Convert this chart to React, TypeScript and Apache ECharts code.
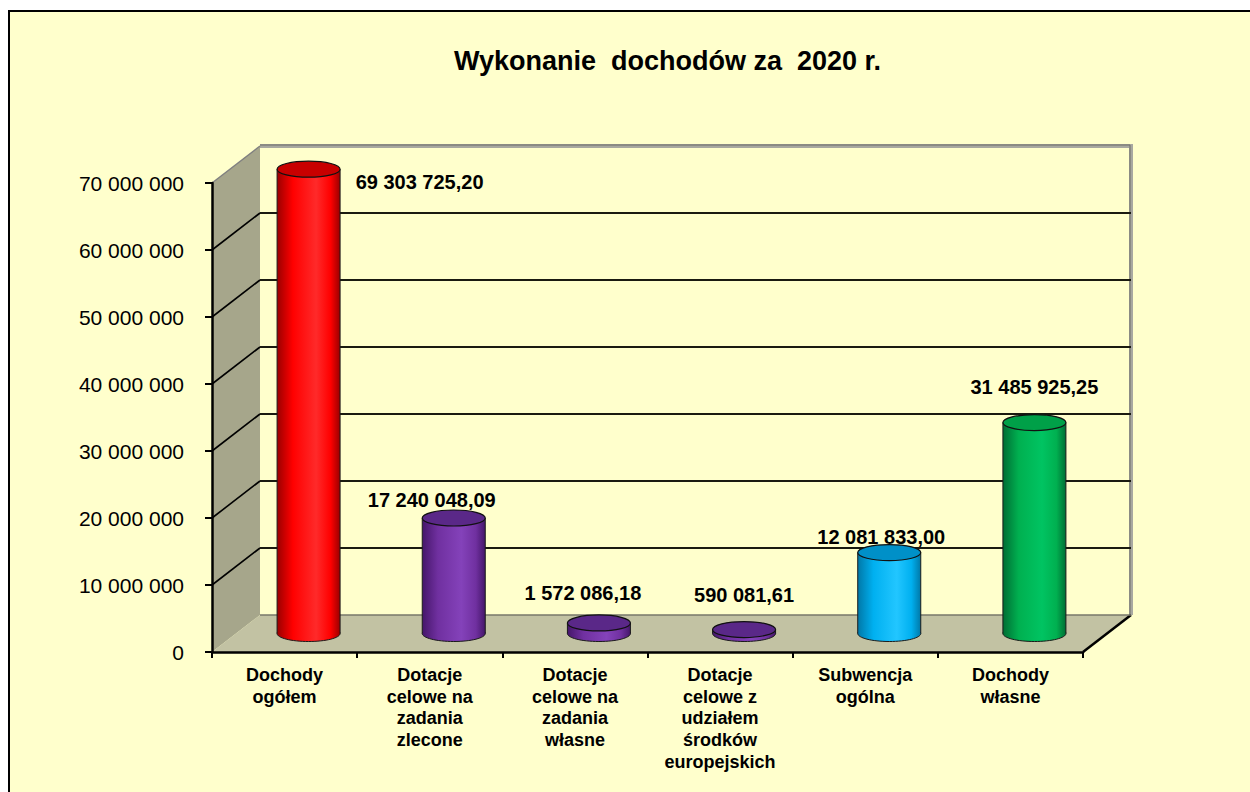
import React, { useEffect, useRef } from "react";
import * as echarts from "echarts";

const TITLE = "Wykonanie  dochodów za  2020 r.";
const CATEGORIES = [
  "Dochody\nogółem",
  "Dotacje\ncelowe na\nzadania\nzlecone",
  "Dotacje\ncelowe na\nzadania\nwłasne",
  "Dotacje\ncelowe z\nudziałem\nśrodków\neuropejskich",
  "Subwencja\nogólna",
  "Dochody\nwłasne",
];
const VALUES = [69303725.2, 17240048.09, 1572086.18, 590081.61, 12081833.0, 31485925.25];
const Y_TICKS = [0, 10000000, 20000000, 30000000, 40000000, 50000000, 60000000, 70000000];

// styling (not data)
const BAR_STYLES = [
  { edge: "#9A0000", mid: "#FF0000", hi: "#FF2A2A", top: "#C80000" },
  { edge: "#45166A", mid: "#7030A0", hi: "#8442BA", top: "#5A2888" },
  { edge: "#45166A", mid: "#7030A0", hi: "#8442BA", top: "#5A2888" },
  { edge: "#45166A", mid: "#7030A0", hi: "#8442BA", top: "#5A2888" },
  { edge: "#0078A8", mid: "#00B0F0", hi: "#22C6FF", top: "#0090C8" },
  { edge: "#006E34", mid: "#00B050", hi: "#00C462", top: "#00A048" },
];
const LABEL_SHIFT = [
  [111, 13],
  [-22, -18],
  [-16, -30],
  [0, -35],
  [-8, -16],
  [0, -36],
];
const DEPTH_X = 48;
const DEPTH_Y = -37;
const FONT = "'Liberation Sans', Arial, sans-serif";

function fmtInt(v: number) {
  return String(Math.round(v)).replace(/\B(?=(\d{3})+(?!\d))/g, " ");
}
function fmtMoney(v: number) {
  const [i, d] = v.toFixed(2).split(".");
  return i.replace(/\B(?=(\d{3})+(?!\d))/g, " ") + "," + d;
}

export default function App() {
  const ref = useRef<HTMLDivElement>(null);
  useEffect(() => {
    if (!ref.current) return;
    const chart = echarts.init(ref.current, null, { renderer: "svg" });
    const option: any = {
      animation: false,
      backgroundColor: "#FFFFFF",
      graphic: [
        {
          type: "rect",
          z: -10,
          silent: true,
          shape: { x: 9, y: 11, width: 1300, height: 900 },
          style: { fill: "#FFFFCC", stroke: "#000000", lineWidth: 2 },
        },
      ],
      title: {
        text: TITLE,
        left: 449,
        top: 42,
        textStyle: { fontFamily: FONT, fontWeight: "bold", fontSize: 27, color: "#000" },
      },
      grid: { left: 212, top: 183, width: 871, height: 469, containLabel: false },
      xAxis: {
        type: "category",
        data: CATEGORIES,
        z: 10,
        axisLine: { show: true, lineStyle: { color: "#000", width: 2.5 } },
        axisTick: { show: true, length: 6, lineStyle: { color: "#000", width: 2 } },
        axisLabel: {
          interval: 0,
          margin: 12,
          fontFamily: FONT,
          fontWeight: "bold",
          fontSize: 18,
          lineHeight: 21.7,
          color: "#000",
        },
        splitLine: { show: false },
      },
      yAxis: {
        type: "value",
        min: 0,
        max: 70000000,
        interval: 10000000,
        z: 10,
        axisLine: { show: true, lineStyle: { color: "#000", width: 2.5 } },
        axisTick: { show: true, length: 7, lineStyle: { color: "#000", width: 2 } },
        axisLabel: {
          margin: 28,
          fontFamily: FONT,
          fontSize: 21,
          color: "#000",
          formatter: (v: number) => fmtInt(v),
        },
        splitLine: { show: false },
      },
      series: [
        {
          type: "custom",
          name: "walls",
          z: 1,
          clip: false,
          silent: true,
          data: [[0, 0]],
          renderItem: (params: any) => {
            const cs = params.coordSys;
            const x0 = cs.x, y0 = cs.y, w = cs.width, h = cs.height;
            const bx = x0 + DEPTH_X, by = y0 + DEPTH_Y;
            return {
              type: "group",
              children: [
                {
                  type: "rect",
                  shape: { x: bx, y: by, width: w, height: h },
                  style: { fill: "#FFFFCC" },
                },
                {
                  type: "polygon",
                  shape: { points: [[x0, y0 + h], [x0, y0], [bx, by], [bx, by + h]] },
                  style: { fill: "#A6A68B" },
                },
                {
                  type: "polygon",
                  shape: { points: [[x0, y0 + h], [x0 + w, y0 + h], [bx + w, by + h], [bx, by + h]] },
                  style: { fill: "#C2C2A3" },
                },
                {
                  type: "polyline",
                  shape: { points: [[bx, by], [bx + w, by], [bx + w, by + h]] },
                  style: { stroke: "#A8A8A0", lineWidth: 4, fill: null },
                },
                {
                  type: "polyline",
                  shape: { points: [[bx, by - 1], [bx + w - 1, by - 1], [bx + w - 1, by + h]] },
                  style: { stroke: "#6E6E68", lineWidth: 1, fill: null },
                },
                {
                  type: "line",
                  shape: { x1: x0, y1: y0, x2: bx, y2: by },
                  style: { stroke: "#808080", lineWidth: 1.5 },
                },
                {
                  type: "line",
                  shape: { x1: x0 + w, y1: y0 + h, x2: bx + w, y2: by + h },
                  style: { stroke: "#000", lineWidth: 2.5 },
                },
                {
                  type: "line",
                  shape: { x1: bx, y1: by + h, x2: bx + w, y2: by + h },
                  style: { stroke: "#77776A", lineWidth: 1.5 },
                },
              ],
            };
          },
        },
        {
          type: "custom",
          name: "gridlines",
          z: 2,
          clip: false,
          silent: true,
          data: Y_TICKS.filter((v) => v > 0 && v < 70000000).map((v) => [0, v]),
          renderItem: (params: any, api: any) => {
            const cs = params.coordSys;
            const y = api.coord([0, api.value(1)])[1];
            const x0 = cs.x;
            return {
              type: "group",
              children: [
                {
                  type: "line",
                  shape: { x1: x0, y1: y, x2: x0 + DEPTH_X, y2: y + DEPTH_Y },
                  style: { stroke: "#000", lineWidth: 1.6 },
                },
                {
                  type: "line",
                  shape: { x1: x0 + DEPTH_X, y1: y + DEPTH_Y, x2: x0 + DEPTH_X + cs.width, y2: y + DEPTH_Y },
                  style: { stroke: "#1A1A10", lineWidth: 2.2 },
                },
              ],
            };
          },
        },
        {
          type: "custom",
          name: "Wykonanie",
          z: 3,
          clip: false,
          data: VALUES.map((v, i) => [i, v]),
          renderItem: (params: any, api: any) => {
            const i = api.value(0);
            const v = api.value(1);
            const base = api.coord([i, 0]);
            const top = api.coord([i, v]);
            const bw = api.size([1, 0])[0];
            const rx = bw * 0.217;
            const ry = 8;
            const cx = base[0] + DEPTH_X / 2;
            const yb = base[1] + DEPTH_Y / 2;
            const yt = top[1] + DEPTH_Y / 2;
            const s = BAR_STYLES[i];
            const grad = {
              type: "linear",
              x: 0, y: 0, x2: 1, y2: 0,
              colorStops: [
                { offset: 0, color: s.edge },
                { offset: 0.25, color: s.mid },
                { offset: 0.62, color: s.hi },
                { offset: 0.85, color: s.mid },
                { offset: 1, color: s.edge },
              ],
            };
            const sh = LABEL_SHIFT[i];
            return {
              type: "group",
              children: [
                {
                  type: "ellipse",
                  shape: { cx, cy: yb, rx, ry },
                  style: { fill: grad, stroke: "#1A1A1A", lineWidth: 1 },
                },
                {
                  type: "rect",
                  shape: { x: cx - rx, y: yt, width: rx * 2, height: Math.max(0, yb - yt) },
                  style: { fill: grad },
                },
                {
                  type: "line",
                  shape: { x1: cx - rx, y1: yt, x2: cx - rx, y2: yb },
                  style: { stroke: "#1A1A1A", lineWidth: 1 },
                },
                {
                  type: "line",
                  shape: { x1: cx + rx, y1: yt, x2: cx + rx, y2: yb },
                  style: { stroke: "#1A1A1A", lineWidth: 1 },
                },
                {
                  type: "ellipse",
                  shape: { cx, cy: yt, rx, ry },
                  style: { fill: s.top, stroke: "#111", lineWidth: 1.2 },
                },
                {
                  type: "text",
                  style: {
                    text: fmtMoney(v),
                    x: cx + sh[0],
                    y: yt + sh[1],
                    align: "center",
                    verticalAlign: "middle",
                    fontFamily: FONT,
                    fontWeight: "bold",
                    fontSize: 20,
                    fill: "#000",
                  },
                },
              ],
            };
          },
        },
      ],
    };
    chart.setOption(option);
    return () => chart.dispose();
  }, []);
  return (
    <div
      ref={ref}
      style={{ position: "absolute", left: 0, top: 0, width: 1250, height: 792 }}
    />
  );
}
